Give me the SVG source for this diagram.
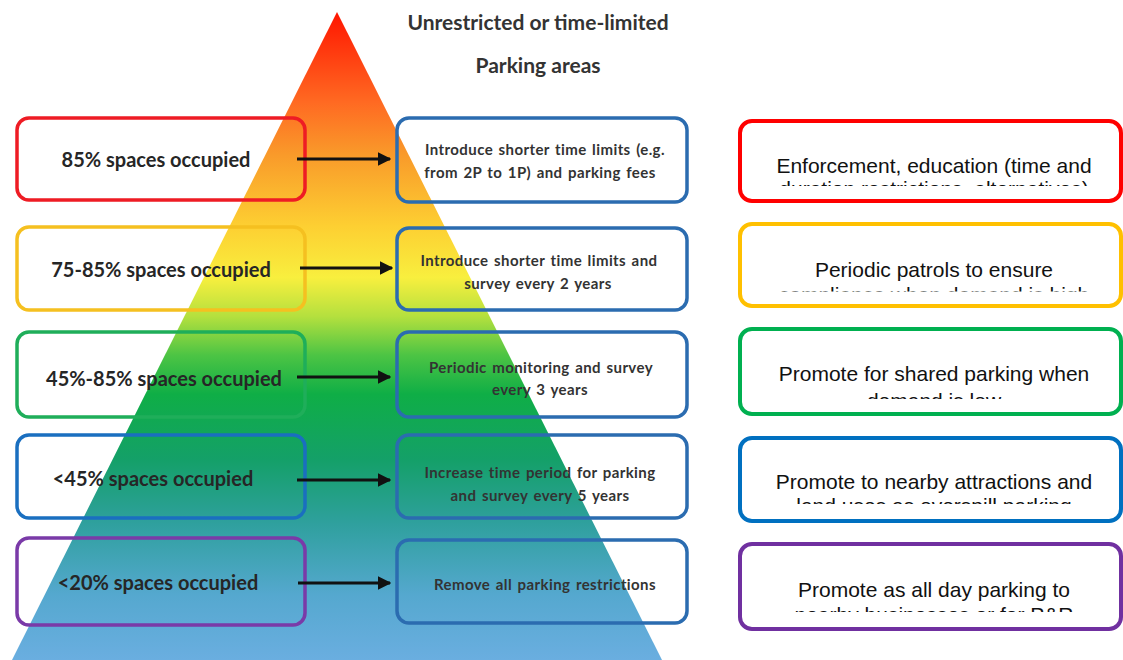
<svg xmlns="http://www.w3.org/2000/svg" width="1123" height="660" viewBox="0 0 1123 660">
<style>
.lbox{fill:none;stroke-width:3.5}
.mbox{fill:none;stroke:#2b6cb0;stroke-width:3.5}
.rbox{fill:#fff;stroke-width:4}
.ltxt{font-family:Lato,"Liberation Sans",sans-serif;font-weight:bold;font-size:20px;fill:#262626;text-anchor:middle}
.mtxt{font-family:Lato,"Liberation Sans",sans-serif;font-weight:bold;font-size:15px;letter-spacing:0.4px;word-spacing:1.5px;fill:#333;text-anchor:middle}
.rtxt{font-family:"Liberation Sans",Arial,sans-serif;font-size:21px;fill:#111;text-anchor:middle}
.title{font-family:Lato,"Liberation Sans",sans-serif;font-weight:bold;font-size:21px;fill:#333;text-anchor:middle}
.conn{stroke:#111;stroke-width:3;fill:none;marker-end:url(#ah)}
</style>
<defs>
<linearGradient id="tri" x1="0" y1="12" x2="0" y2="660" gradientUnits="userSpaceOnUse">
<stop offset="0" stop-color="#ff1500"/>
<stop offset="0.14" stop-color="#ff6a22"/>
<stop offset="0.22" stop-color="#f99a2a"/>
<stop offset="0.33" stop-color="#fdcf32"/>
<stop offset="0.41" stop-color="#f8ef3e"/>
<stop offset="0.47" stop-color="#b4e03e"/>
<stop offset="0.53" stop-color="#4cc444"/>
<stop offset="0.59" stop-color="#0fae46"/>
<stop offset="0.69" stop-color="#14a068"/>
<stop offset="0.79" stop-color="#2fa09e"/>
<stop offset="0.9" stop-color="#55a8cf"/>
<stop offset="1" stop-color="#6aaee0"/>
</linearGradient>
<marker id="ah" viewBox="0 0 10 10" refX="9" refY="5" markerWidth="4.5" markerHeight="4.5" orient="auto" markerUnits="strokeWidth">
<path d="M0,0 L10,5 L0,10 Z" fill="#111"/>
</marker>
<clipPath id="c1"><rect x="740" y="120" width="382" height="66"/></clipPath>
<clipPath id="c2"><rect x="740" y="222" width="382" height="69.5"/></clipPath>
<clipPath id="c3"><rect x="740" y="328" width="382" height="71"/></clipPath>
<clipPath id="c4"><rect x="740" y="437" width="382" height="67"/></clipPath>
<clipPath id="c5"><rect x="740" y="543" width="382" height="69"/></clipPath>
</defs>
<rect width="1123" height="660" fill="#fff"/>
<polygon id="pyramid" points="337,12 662,660 12,660" fill="url(#tri)"/>
<g id="title">
<text class="title" x="538" y="30">Unrestricted or time-limited</text>
<text class="title" x="538" y="73">Parking areas</text>
</g>
<g id="l1"><rect class="lbox" x="17" y="118" width="288" height="82" rx="12" stroke="#ee1c24"/><text class="ltxt" x="156" y="167">85% spaces occupied</text></g>
<g id="l2"><rect class="lbox" x="17" y="227" width="288" height="83" rx="12" stroke="#f5c020"/><text class="ltxt" x="161" y="277">75-85% spaces occupied</text></g>
<g id="l3"><rect class="lbox" x="17" y="332" width="288" height="85" rx="12" stroke="#1fae5a"/><text class="ltxt" x="164" y="386">45%-85% spaces occupied</text></g>
<g id="l4"><rect class="lbox" x="17" y="435" width="288" height="83" rx="12" stroke="#1a6fc0"/><text class="ltxt" x="153" y="486">&lt;45% spaces occupied</text></g>
<g id="l5"><rect class="lbox" x="17" y="538" width="288" height="87" rx="12" stroke="#7a3aa8"/><text class="ltxt" x="158" y="590">&lt;20% spaces occupied</text></g>
<g id="m1"><rect class="mbox" x="397" y="118" width="290" height="84" rx="12"/><text class="mtxt" x="545" y="155">Introduce shorter time limits (e.g.</text><text class="mtxt" x="540" y="178">from 2P to 1P) and parking fees</text></g>
<g id="m2"><rect class="mbox" x="397" y="228" width="290" height="82" rx="12"/><text class="mtxt" x="539" y="266">Introduce shorter time limits and</text><text class="mtxt" x="538" y="289">survey every 2 years</text></g>
<g id="m3"><rect class="mbox" x="397" y="332" width="290" height="85" rx="12"/><text class="mtxt" x="541" y="373">Periodic monitoring and survey</text><text class="mtxt" x="540" y="395">every 3 years</text></g>
<g id="m4"><rect class="mbox" x="397" y="435" width="290" height="83" rx="12"/><text class="mtxt" x="540" y="478">Increase time period for parking</text><text class="mtxt" x="540" y="501">and survey every 5 years</text></g>
<g id="m5"><rect class="mbox" x="397" y="540" width="290" height="83" rx="12"/><text class="mtxt" x="545" y="590">Remove all parking restrictions</text></g>
<g id="connectors">
<line class="conn" x1="297" y1="159" x2="390" y2="159"/>
<line class="conn" x1="300" y1="268" x2="392" y2="268"/>
<line class="conn" x1="297" y1="377" x2="390" y2="377"/>
<line class="conn" x1="297" y1="480" x2="390" y2="480"/>
<line class="conn" x1="298" y1="583" x2="390" y2="583"/>
</g>
<g id="r1"><rect class="rbox" x="740" y="121" width="381" height="80" rx="12" stroke="#ff0000"/><g clip-path="url(#c1)"><text class="rtxt" x="934" y="173">Enforcement, education (time and</text><text class="rtxt" x="934" y="196">duration restrictions, alternatives)</text></g></g>
<g id="r2"><rect class="rbox" x="740" y="224" width="381" height="82" rx="12" stroke="#ffc000"/><g clip-path="url(#c2)"><text class="rtxt" x="934" y="277">Periodic patrols to ensure</text><text class="rtxt" x="934" y="302">compliance when demand is high</text></g></g>
<g id="r3"><rect class="rbox" x="740" y="329" width="381" height="85" rx="12" stroke="#00b050"/><g clip-path="url(#c3)"><text class="rtxt" x="934" y="381">Promote for shared parking when</text><text class="rtxt" x="934" y="408">demand is low</text></g></g>
<g id="r4"><rect class="rbox" x="740" y="438" width="381" height="83" rx="12" stroke="#0070c0"/><g clip-path="url(#c4)"><text class="rtxt" x="934" y="489">Promote to nearby attractions and</text><text class="rtxt" x="934" y="513">land uses as overspill parking</text></g></g>
<g id="r5"><rect class="rbox" x="740" y="544" width="381" height="85" rx="12" stroke="#7030a0"/><g clip-path="url(#c5)"><text class="rtxt" x="934" y="597">Promote as all day parking to</text><text class="rtxt" x="934" y="622">nearby businesses or for P&amp;R</text></g></g>
</svg>
